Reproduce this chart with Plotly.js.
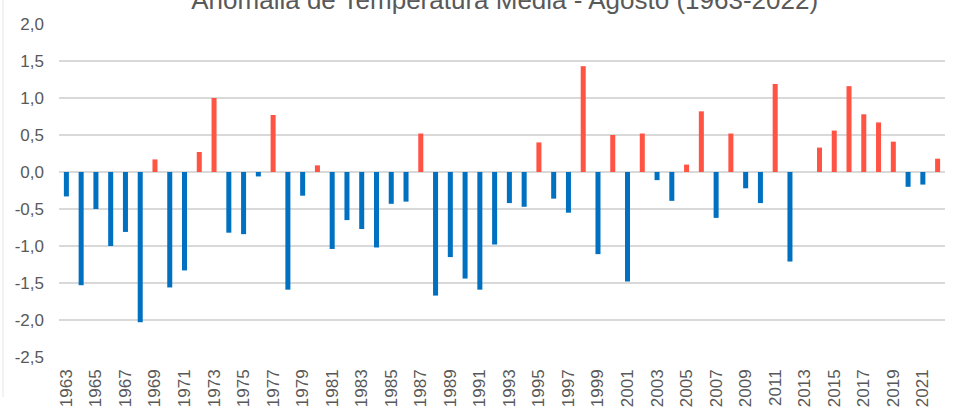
<!DOCTYPE html>
<html>
<head>
<meta charset="utf-8">
<script src="https://cdn.plot.ly/plotly-3.0.1.min.js"></script>
<style>html,body{margin:0;padding:0;background:#fff;}#chart{width:954px;height:415px;}</style>
</head>
<body>
<div id="chart"></div>
<script>
const years = [1963,1964,1965,1966,1967,1968,1969,1970,1971,1972,1973,1974,1975,1976,1977,1978,1979,1980,
  1981,1982,1983,1984,1985,1986,1987,1988,1989,1990,1991,1992,1993,1994,1995,1996,1997,1998,1999,2000,2001,2002,
  2003,2004,2005,2006,2007,2008,2009,2010,2011,2012,2013,2014,2015,2016,2017,2018,2019,2020,2021,2022];
const anomalies = [-0.33,-1.53,-0.50,-1.00,-0.81,-2.03,0.17,-1.56,-1.33,0.27,1.00,-0.82,-0.84,-0.06,0.77,-1.59,-0.32,0.09,
  -1.04,-0.65,-0.77,-1.02,-0.43,-0.40,0.52,-1.67,-1.15,-1.44,-1.59,-0.98,-0.42,-0.47,0.40,-0.36,-0.55,1.43,-1.11,0.50,-1.48,0.52,
  -0.11,-0.39,0.10,0.82,-0.62,0.52,-0.22,-0.42,1.19,-1.21,0.00,0.33,0.56,1.16,0.78,0.67,0.41,-0.20,-0.17,0.18];
const yTickVals = [2,1.5,1,0.5,0,-0.5,-1,-1.5,-2,-2.5];
const yTickText = ["2,0","1,5","1,0","0,5","0,0","-0,5","-1,0","-1,5","-2,0","-2,5"];
const titleText = "Anomalia de Temperatura Média - Agosto (1963-2022)";

const POS = "#FF5343", NEG = "#0070C0";
const colors = anomalies.map(v => v >= 0 ? POS : NEG);

const trace = {
  type: "bar", x: years, y: anomalies,
  marker: {color: colors, line: {width: 0}},
  hoverinfo: "x+y"
};

const font = "Liberation Sans, Arial, sans-serif";
const layout = {
  width: 954, height: 415,
  margin: {l: 59, r: 9, t: 24, b: 58, pad: 0},
  paper_bgcolor: "#fff", plot_bgcolor: "#fff",
  bargap: 0.66,
  showlegend: false,
  title: {text: titleText, font: {family: font, size: 26, color: "#595959"},
    x: 0.529, xanchor: "center", xref: "container", y: 1, yref: "container", yanchor: "middle"},
  xaxis: {
    range: [1962.5, 2022.5], tick0: 1963, dtick: 2, tickmode: "linear",
    tickangle: -90, showgrid: false, zeroline: false, showline: false, ticks: "",
    ticklabelstandoff: 8,
    tickfont: {family: font, size: 17, color: "#595959"}
  },
  yaxis: {
    range: [-2.5, 2.0], tickmode: "array", tickvals: yTickVals, ticktext: yTickText,
    showgrid: true, gridcolor: "#D9D9D9", gridwidth: 1.5,
    zeroline: true, zerolinecolor: "#D9D9D9", zerolinewidth: 1.5,
    showline: false, ticks: "", ticklabelstandoff: 14,
    tickfont: {family: font, size: 17, color: "#595959"}
  },
  shapes: [
    {type: "line", xref: "paper", yref: "paper", x0: -0.0632, x1: -0.0632, y0: -0.12, y1: 1.1,
     line: {color: "#E6E6E6", width: 1}}
  ]
};

Plotly.newPlot("chart", [trace], layout, {displayModeBar: false, staticPlot: true});
</script>
</body>
</html>
